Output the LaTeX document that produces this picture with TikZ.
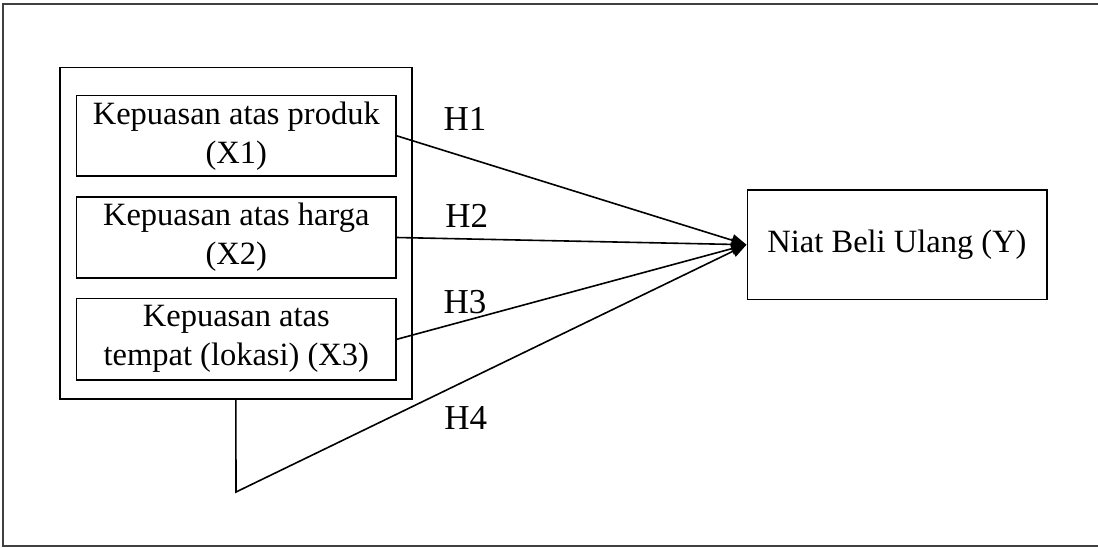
\documentclass[tikz,border=0pt]{standalone}
\usepackage{fontspec}
\setmainfont{Liberation Serif}
\usetikzlibrary{arrows.meta}
\begin{document}
\begin{tikzpicture}[x=1pt,y=-1pt,
  varbox/.style={draw,line width=1.6pt,inner sep=0pt,align=center,
    font=\fontsize{32.5}{39}\selectfont},
  hlabel/.style={anchor=base,inner sep=0pt,font=\fontsize{35}{40}\selectfont},
  conn/.style={line width=1.6pt,-{Triangle[length=15pt,width=12pt]}},
  frameline/.style={draw=black!75,line width=2pt}]
\useasboundingbox (0,0) rectangle (1098,547);
\draw[frameline] (1098,4) -- (2.5,4) -- (2.5,545.5) -- (1098,545.5);
% group box
\node[draw,line width=1.6pt,minimum width=351.7pt,minimum height=331.7pt,inner sep=0pt] (grp) at (235.85,233.15) {};
\node[varbox,minimum width=319.3pt,minimum height=80.3pt] (b1) at (236.3,135.8) {Kepuasan atas produk\\(X1)};
\node[varbox,minimum width=319.3pt,minimum height=81pt] (b2) at (236.3,237.5) {Kepuasan atas harga\\(X2)};
\node[varbox,minimum width=319.3pt,minimum height=81.3pt] (b3) at (236.3,339.3) {Kepuasan atas\\tempat (lokasi) (X3)};
\node[varbox,minimum width=299.4pt,minimum height=109.3pt] (y) at (897,244.7) {Niat Beli Ulang (Y)};
% labels
\node[hlabel] (h1) at (465,130.7) {H1};
\node[hlabel] (h2) at (466.7,227.7) {H2};
\node[hlabel] (h3) at (465,313.3) {H3};
\node[hlabel] (h4) at (465.8,429.3) {H4};
% connectors
\coordinate (c4) at (236,492);
\draw[conn] (b1.east) -- (y.west);
\draw[conn] (b2.east) -- (y.west);
\draw[conn] (b3.east) -- (y.west);
\draw[conn] (grp.south) -- (c4) -- (y.west);
\end{tikzpicture}
\end{document}
